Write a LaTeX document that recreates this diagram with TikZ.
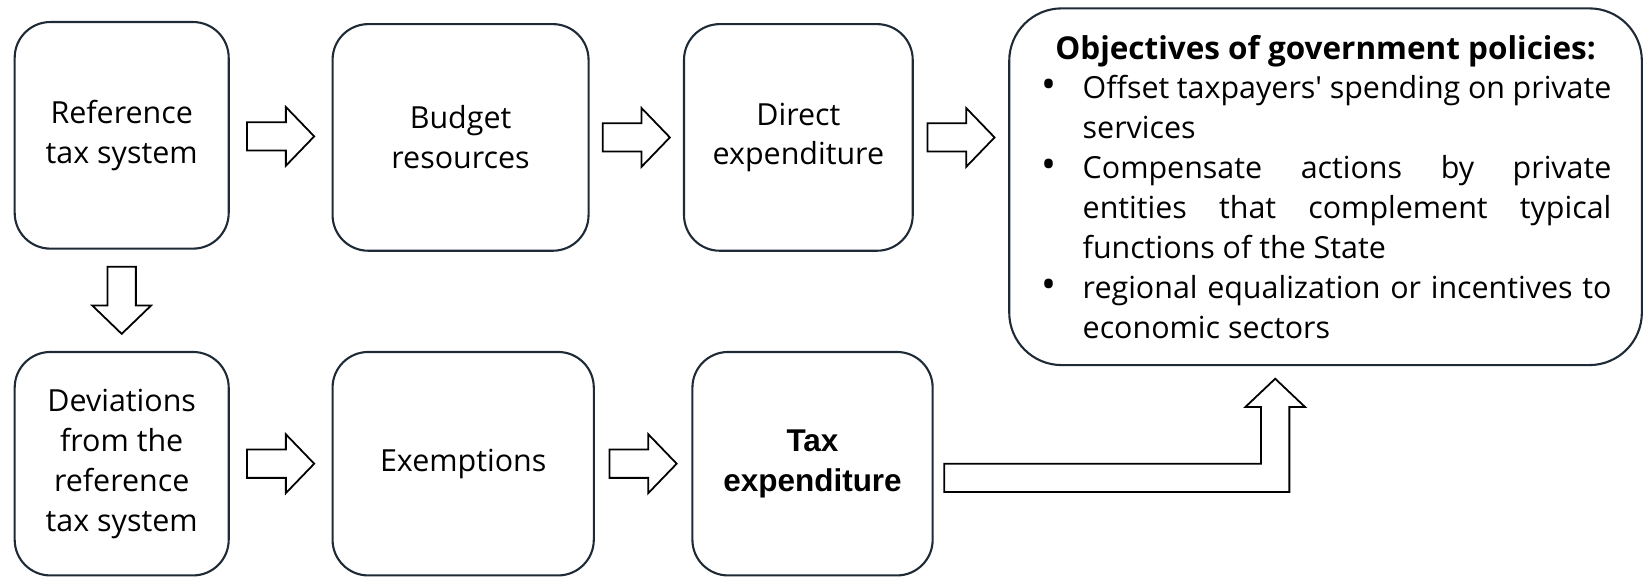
\documentclass[tikz,border=0pt]{standalone}
\usepackage{fontspec}
\setmainfont{Open Sans}
\newfontfamily\arialfont{Liberation Sans}
\usetikzlibrary{calc}
\definecolor{boxline}{HTML}{1E2A36}
\tikzset{
  stage/.style={draw=boxline, line width=1pt, rounded corners=17pt, align=center,
    inner sep=0pt, font=\fontsize{14.5}{19}\selectfont},
  fatline/.style={draw=black, line width=0.85pt, fill=white, line join=miter},
  fatarrow/.pic={\path[fatline] (-32,-13.5) -- (5,-13.5) -- (5,-28) -- (32,0)
    -- (5,28) -- (5,13.5) -- (-32,13.5) -- cycle;}
}
\newcommand\goalitem[1]{\par\hangindent=20.5pt\hangafter=1\noindent
  \makebox[20.5pt][l]{\hspace{1pt}{\fontsize{19}{19}\selectfont\textbullet}}#1\par}

\begin{document}
\begin{tikzpicture}[x=0.5pt, y=-0.5pt]
  \useasboundingbox (0,0) rectangle (1568,550);
  % top row
  \node[stage, minimum width=102pt, minimum height=108pt] (refsys) at (116,129) {Reference\\tax system};
  \node[stage, minimum width=122pt, minimum height=108pt] (budget) at (439,131) {Budget\\resources};
  \node[stage, minimum width=109pt, minimum height=108pt] (direct) at (761,131) {Direct\\expenditure};
  \node[stage, rounded corners=25pt, minimum width=301.5pt, minimum height=170pt,
    text width=272.5pt, align=justify] (goals) at (1263.5,178)
    {{\centering\fontsize{15}{19}\selectfont\bfseries Objectives of government policies:\par}
     \goalitem{Offset taxpayers\textquotesingle{} spending on private\linebreak services}
     \goalitem{Compensate actions by private\linebreak entities that complement typical\linebreak functions of the State}
     \goalitem{regional equalization or incentives to\linebreak economic sectors}};
  % bottom row
  \node[stage, minimum width=102pt, minimum height=106.5pt] (deviat) at (116,442) {Deviations\\from the\\reference\\tax system};
  \node[stage, minimum width=124.5pt, minimum height=106.5pt] (exempt) at (441.5,442) {Exemptions};
  \node[stage, minimum width=114.5pt, minimum height=106.5pt,
    font=\fontsize{15}{19}\arialfont\bfseries] (taxexp) at (774.5,442) {Tax\\expenditure};
  % block arrows
  \pic at ($(refsys.east)!0.5!(budget.west)$) {fatarrow};
  \pic at ($(budget.east)!0.5!(direct.west)$) {fatarrow};
  \pic at ($(direct.east)!0.5!(direct.east -| goals.west)$) {fatarrow};
  \pic[rotate=-90] at ($(refsys.south)!0.5!(deviat.north)$) {fatarrow};
  \pic at ($(deviat.east)!0.5!(exempt.west)$) {fatarrow};
  \pic at ($(exempt.east)!0.5!(taxexp.west)$) {fatarrow};
  \path[fatline] ($(taxexp.east)+(10,0)$) coordinate (lstart) -- ++(302,0) -- ++(0,-54)
    -- ++(-15,0) -- ++(28.5,-27) -- ++(28.5,27) -- ++(-15,0) -- ++(0,81)
    -- ($(lstart)+(0,27)$) -- cycle;
\end{tikzpicture}
\end{document}
